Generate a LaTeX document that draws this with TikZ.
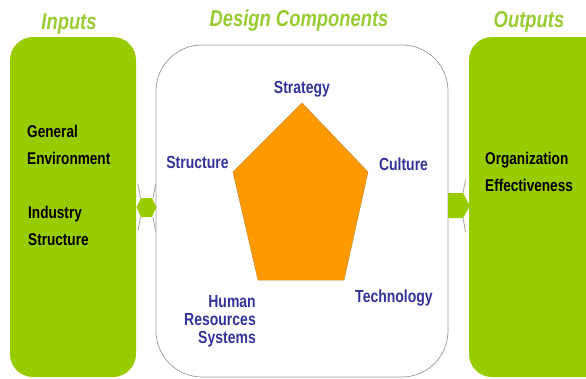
\documentclass[tikz,border=0pt]{standalone}
\usepackage{fontspec}
\setmainfont{Liberation Sans}[FakeStretch=0.8]
\definecolor{boxgreen}{HTML}{99CC00}
\definecolor{titlegreen}{HTML}{99CC33}
\definecolor{lblue}{HTML}{333399}
\definecolor{pent}{HTML}{FF9900}
\definecolor{pentedge}{HTML}{C98A2E}
\tikzset{
  greenbox/.style={fill=boxgreen, draw=none, rounded corners=23pt},
  centerbox/.style={fill=white, draw=gray!80, line width=0.7pt, rounded corners=46pt},
  title/.style={inner sep=0pt, anchor=base, text=titlegreen, font=\fontsize{23}{26}\selectfont\bfseries\itshape},
  comp/.style={inner sep=0pt, text=lblue, font=\fontsize{17.5}{19}\selectfont\bfseries},
  blk/.style={inner sep=0pt, anchor=base west, text=black, font=\fontsize{17}{19}\selectfont\bfseries},
  arrowbody/.style={fill=boxgreen, draw=none},
  wing/.style={draw=gray!70, line width=0.8pt}
}
\begin{document}
\begin{tikzpicture}[x=1pt,y=-1pt]
\useasboundingbox (0,0) rectangle (586,378);
\clip (0,0) rectangle (586,378);
\fill[white] (0,0) rectangle (586,378);

% boxes
\draw[greenbox] (10,37) rectangle (136,377);
\draw[centerbox] (156,45) rectangle (448,377);
\draw[greenbox] (469,37) rectangle (620,377);

% titles
\node[title] (tin) at (69,29.5) {Inputs};
\node[title] (tdc) at (299,26) {Design Components};
\node[title] (tout) at (529,27) {Outputs};

% pentagon
\coordinate (pt) at (302,103);
\coordinate (pr) at (368,172);
\coordinate (pbr) at (344,280);
\coordinate (pbl) at (258,280);
\coordinate (pl) at (233,172);
\filldraw[fill=pent, draw=pentedge, line width=0.5pt] (pt) -- (pr) -- (pbr) -- (pbl) -- (pl) -- cycle;

% component labels
\node[comp, anchor=base] (strat) at (302,93) {Strategy};
\node[comp, anchor=base] (struc) at (197.5,168) {Structure};
\node[comp, anchor=base] (cult) at (403.5,170) {Culture};
\node[comp, anchor=base] (tech) at (394,302) {Technology};
\node[comp, anchor=base east] (hr1) at (256,307) {Human};
\node[comp, anchor=base east] (hr2) at (256,325) {Resources};
\node[comp, anchor=base east] (hr3) at (256,343) {Systems};

% input/output texts
\node[blk] (ge1) at (27,137) {General};
\node[blk] (ge2) at (27,164) {Environment};
\node[blk] (is1) at (28,218) {Industry};
\node[blk] (is2) at (28,245) {Structure};
\node[blk] (oe1) at (485,164) {Organization};
\node[blk] (oe2) at (485,191.5) {Effectiveness};

% left double arrow
\coordinate (la) at (136.5,207);
\coordinate (lb) at (156.5,207);
\draw[wing] (140.5,198) -- (138,184);
\draw[wing] (140.5,217) -- (138,231);
\draw[wing] (153,198) -- (155.5,184);
\draw[wing] (153,217) -- (155.5,231);
\fill[arrowbody] (la) -- (141,198) -- (152,198) -- (lb) -- (152,217) -- (141,217) -- cycle;

% right arrow
\coordinate (ra) at (448,193);
\coordinate (rb) at (470,206);
\draw[wing] (463,193) -- (465.5,180);
\draw[wing] (463,218) -- (465.5,232);
\fill[arrowbody] (ra) -- (463,193) -- (rb) -- (463,218) -- (448,218) -- cycle;
\end{tikzpicture}
\end{document}
